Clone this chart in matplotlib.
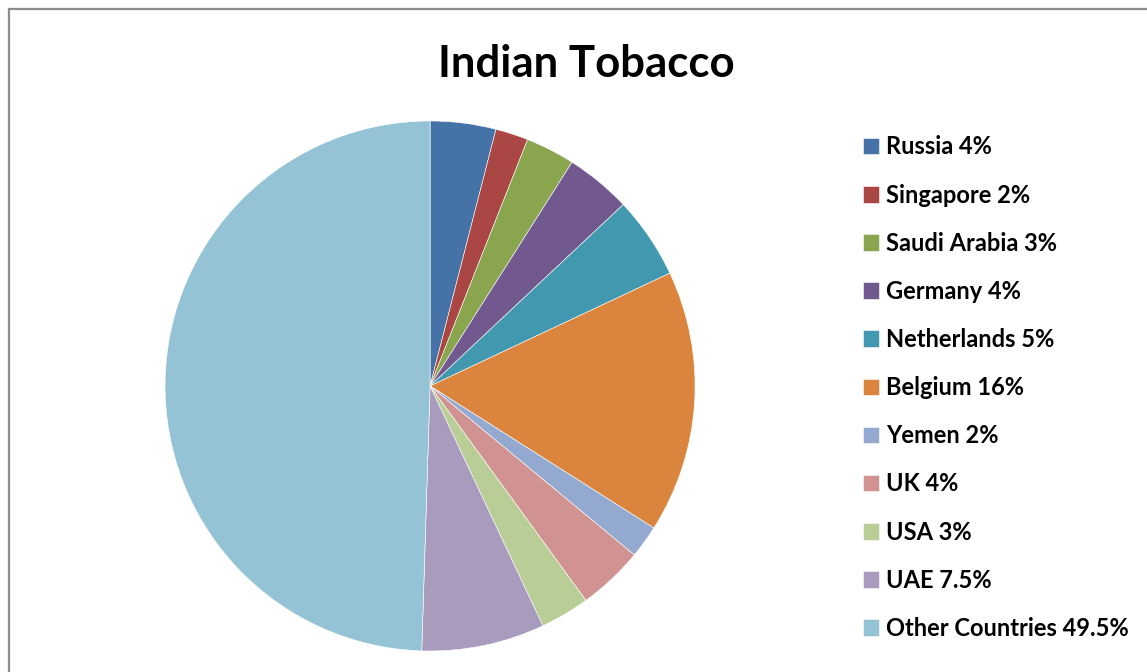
import matplotlib.pyplot as plt
from matplotlib.patches import Rectangle

plt.rcParams['font.family'] = ['Lato', 'DejaVu Sans']

countries = ['Russia', 'Singapore', 'Saudi Arabia', 'Germany', 'Netherlands',
             'Belgium', 'Yemen', 'UK', 'USA', 'UAE', 'Other Countries']
shares = [4, 2, 3, 4, 5, 16, 2, 4, 3, 7.5, 49.5]
colors = ['#4572a7', '#aa4643', '#89a54e', '#71588f', '#4198af', '#db843d',
          '#93a9cf', '#d19392', '#b9cd96', '#a99bbd', '#93c3d4']
labels = [f'{c} {s:g}%' for c, s in zip(countries, shares)]

fig = plt.figure(figsize=(11.47, 6.72), dpi=100)

# chart frame (only left and top edges are in view)
fig.add_artist(Rectangle((8.5 / 1147, -0.05), 1.2, 1.05 - 9.5 / 672,
                         transform=fig.transFigure, fill=False,
                         edgecolor='#8c8c8c', linewidth=1.6))

# partly cut-off caption above the frame
fig.text(0.002, 1.014, '23.', fontsize=16, color='#444444', va='center')

ax = fig.add_axes([0.1439, 0.03125, 0.4621, 0.7887])
wedges, _ = ax.pie(shares, colors=colors, startangle=90, counterclock=False,
                   wedgeprops=dict(edgecolor='white', linewidth=0.4))
ax.set_xlim(-1, 1)
ax.set_ylim(-1, 1)
ax.set_aspect('equal')

fig.text(0.511, 0.905, 'Indian Tobacco', ha='center', va='center',
         fontsize=31.5, fontweight='bold')

fig.legend(wedges, labels, loc='upper left', bbox_to_anchor=(0.744, 0.8125),
           frameon=False, prop=dict(weight='bold', size=17),
           handlelength=0.7, handleheight=0.7, handletextpad=0.27,
           labelspacing=1.065, borderaxespad=0)

fig.savefig('out.png', dpi=100)
